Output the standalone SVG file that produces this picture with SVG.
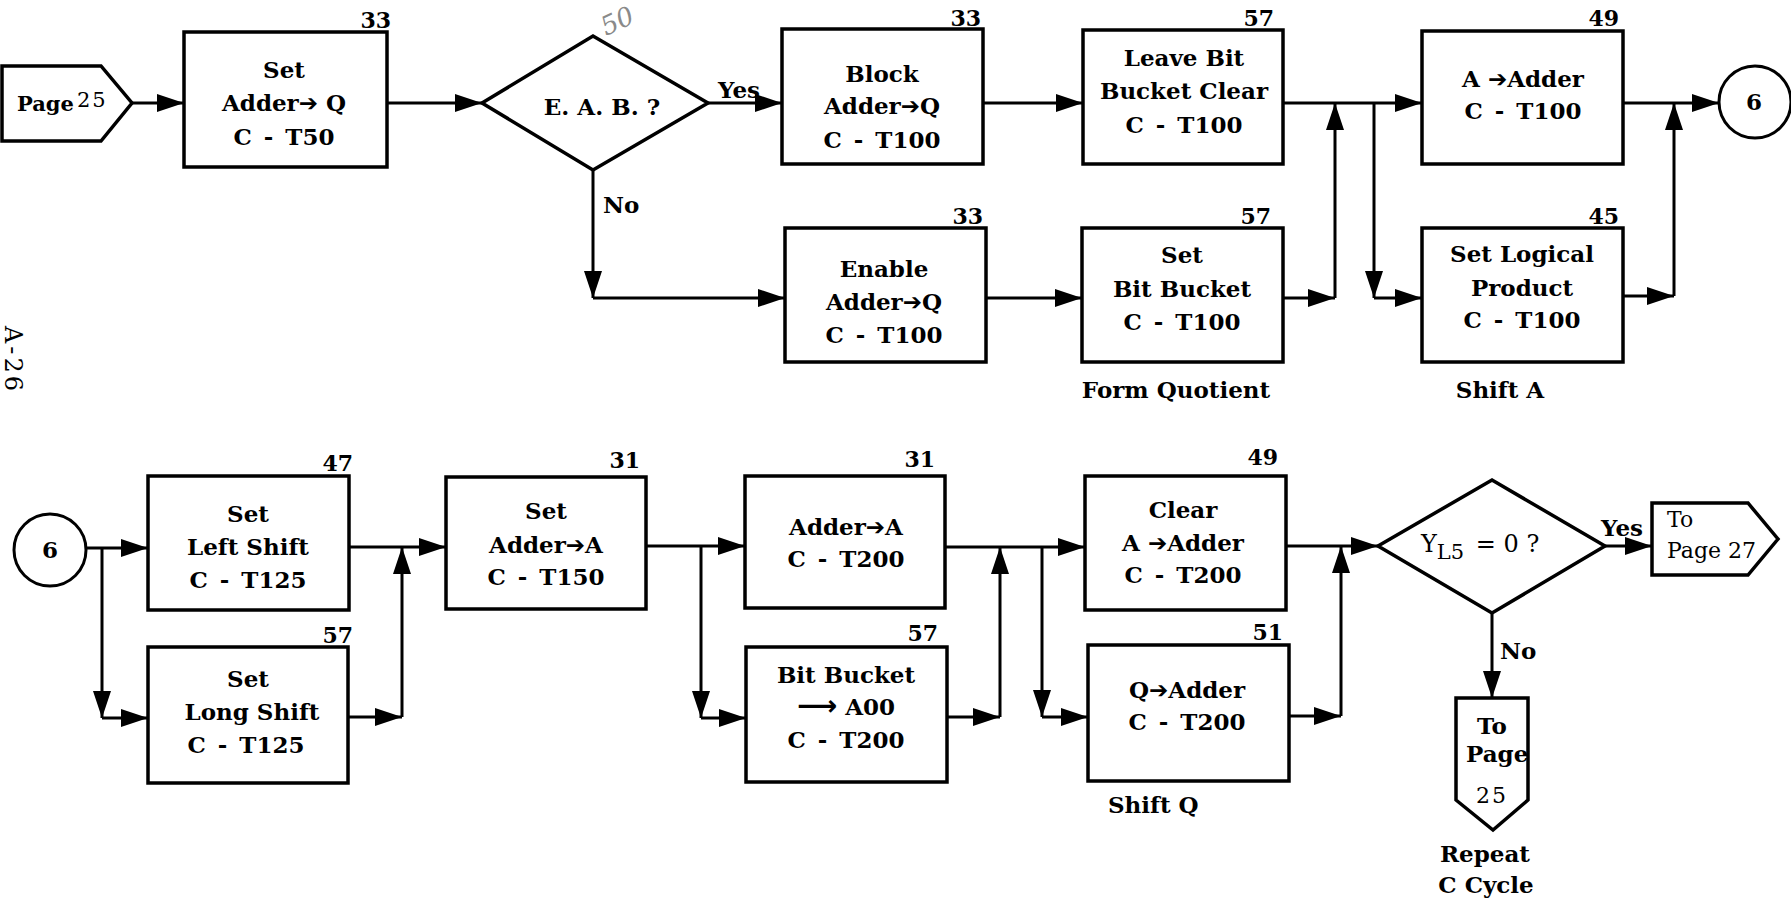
<svg xmlns="http://www.w3.org/2000/svg" width="1791" height="903" viewBox="0 0 1791 903">
<style>
.box{fill:#fff;stroke:#000;stroke-width:3.5}
.ln{fill:none;stroke:#000;stroke-width:3}
.arr{marker-end:url(#ah)}
.t{font-family:"DejaVu Serif","Liberation Serif",serif;font-weight:bold;font-size:23px;text-anchor:middle;fill:#000}
.r{font-family:"DejaVu Serif","Liberation Serif",serif;font-weight:normal;font-size:22px;fill:#000}
.n{font-family:"DejaVu Serif","Liberation Serif",serif;font-weight:bold;font-size:22px;text-anchor:end;fill:#000}
.s{font-family:"DejaVu Sans",sans-serif;font-weight:bold}
.lab{font-family:"DejaVu Serif","Liberation Serif",serif;font-weight:bold;font-size:23px;fill:#000}
</style>
<defs>
<marker id="ah" markerUnits="userSpaceOnUse" markerWidth="28" markerHeight="18" refX="27" refY="9" orient="auto" overflow="visible">
<path d="M0,0 L27,9 L0,18 Z" fill="#000"/>
</marker>
</defs>
<rect x="0" y="0" width="1791" height="903" fill="#fff"/>

<!-- page annotation -->
<text class="r" transform="translate(5,326) rotate(90)" style="font-size:24px;letter-spacing:3px">A-26</text>
<text class="r" transform="translate(606,36) rotate(-25)" style="font-size:26px;font-style:italic;fill:#8a8a8a">50</text>

<g id="connectors">
<path class="ln arr" d="M132,103 H184"/>
<path class="ln arr" d="M387,103 H482"/>
<path class="ln arr" d="M708,103 H782"/>
<path class="ln arr" d="M593,170 V298"/>
<path class="ln arr" d="M593,298 H785"/>
<path class="ln arr" d="M983,103 H1083"/>
<path class="ln arr" d="M986,298 H1082"/>
<path class="ln arr" d="M1283,103 H1422"/>
<path class="ln arr" d="M1283,298 H1335"/>
<path class="ln arr" d="M1335,298 V103"/>
<path class="ln arr" d="M1374,103 V298"/>
<path class="ln arr" d="M1374,298 H1422"/>
<path class="ln arr" d="M1623,103 H1719"/>
<path class="ln arr" d="M1623,296 H1674"/>
<path class="ln arr" d="M1674,296 V103"/>

<path class="ln arr" d="M86,548 H148"/>
<path class="ln arr" d="M102,548 V718"/>
<path class="ln arr" d="M102,718 H148"/>
<path class="ln arr" d="M349,547 H446"/>
<path class="ln arr" d="M348,717 H402"/>
<path class="ln arr" d="M402,717 V547"/>
<path class="ln arr" d="M646,546 H745"/>
<path class="ln arr" d="M701,546 V718"/>
<path class="ln arr" d="M701,718 H746"/>
<path class="ln arr" d="M945,547 H1085"/>
<path class="ln arr" d="M947,717 H1000"/>
<path class="ln arr" d="M1000,717 V547"/>
<path class="ln arr" d="M1042,547 V717"/>
<path class="ln arr" d="M1042,717 H1088"/>
<path class="ln arr" d="M1286,546 H1378"/>
<path class="ln arr" d="M1289,716 H1341"/>
<path class="ln arr" d="M1341,716 V546"/>
<path class="ln arr" d="M1605,546 H1652"/>
<path class="ln arr" d="M1492,613 V698"/>
</g>

<g id="labels">
<text class="lab" x="718" y="98">Yes</text>
<text class="lab" x="603" y="213">No</text>
<text class="t" x="1176" y="398">Form Quotient</text>
<text class="t" x="1500" y="398">Shift A</text>
<text class="lab" x="1108" y="813">Shift Q</text>
<text class="lab" x="1601" y="536">Yes</text>
<text class="lab" x="1500" y="659">No</text>
<text class="t" x="1485" y="862">Repeat</text>
<text class="t" x="1486" y="893">C Cycle</text>
</g>

<g id="page25-in">
<polygon class="box" points="2,66 101,66 132,103 101,141 2,141"/>
<text class="lab" x="17" y="111" style="font-size:21px">Page</text>
<text class="r" x="77" y="107" style="font-size:21px;letter-spacing:2px">25</text>
</g>

<g id="set-adder-q">
<rect class="box" x="184" y="32" width="203" height="135"/>
<text class="n" x="391" y="28">33</text>
<text class="t" x="284" y="78">Set</text>
<text class="t" x="284" y="111">Adder<tspan class="s">➔</tspan> Q</text>
<text class="t" x="284" y="145" word-spacing="4">C - T50</text>
</g>

<g id="eab">
<polygon class="box" points="482,103 593,36 708,103 593,170"/>
<text class="t" x="602" y="115">E. A. B. ?</text>
</g>

<g id="block-adder-q">
<rect class="box" x="782" y="29" width="201" height="135"/>
<text class="n" x="981" y="26">33</text>
<text class="t" x="882" y="82">Block</text>
<text class="t" x="882" y="114">Adder<tspan class="s">➔</tspan>Q</text>
<text class="t" x="882" y="148" word-spacing="4">C - T100</text>
</g>

<g id="enable-adder-q">
<rect class="box" x="785" y="228" width="201" height="134"/>
<text class="n" x="983" y="224">33</text>
<text class="t" x="884" y="277">Enable</text>
<text class="t" x="884" y="310">Adder<tspan class="s">➔</tspan>Q</text>
<text class="t" x="884" y="343" word-spacing="4">C - T100</text>
</g>

<g id="leave-bit-bucket">
<rect class="box" x="1083" y="30" width="200" height="134"/>
<text class="n" x="1274" y="26">57</text>
<text class="t" x="1184" y="66">Leave Bit</text>
<text class="t" x="1184" y="99">Bucket Clear</text>
<text class="t" x="1184" y="133" word-spacing="4">C - T100</text>
</g>

<g id="set-bit-bucket">
<rect class="box" x="1082" y="228" width="201" height="134"/>
<text class="n" x="1271" y="224">57</text>
<text class="t" x="1182" y="263">Set</text>
<text class="t" x="1182" y="297">Bit Bucket</text>
<text class="t" x="1182" y="330" word-spacing="4">C - T100</text>
</g>

<g id="a-adder">
<rect class="box" x="1422" y="31" width="201" height="133"/>
<text class="n" x="1619" y="26">49</text>
<text class="t" x="1523" y="87">A <tspan class="s">➔</tspan>Adder</text>
<text class="t" x="1523" y="119" word-spacing="4">C - T100</text>
</g>

<g id="set-logical-product">
<rect class="box" x="1422" y="228" width="201" height="134"/>
<text class="n" x="1619" y="224">45</text>
<text class="t" x="1522" y="262">Set Logical</text>
<text class="t" x="1522" y="296">Product</text>
<text class="t" x="1522" y="328" word-spacing="4">C - T100</text>
</g>

<g id="conn6-out">
<circle cx="1755" cy="102" r="36" fill="#fff" stroke="#000" stroke-width="3"/>
<text class="t" x="1754" y="110">6</text>
</g>

<g id="conn6-in">
<circle cx="50" cy="550" r="36" fill="#fff" stroke="#000" stroke-width="3"/>
<text class="t" x="50" y="558">6</text>
</g>

<g id="set-left-shift">
<rect class="box" x="148" y="476" width="201" height="134"/>
<text class="n" x="353" y="471">47</text>
<text class="t" x="248" y="522">Set</text>
<text class="t" x="248" y="555">Left Shift</text>
<text class="t" x="248" y="588" word-spacing="4">C - T125</text>
</g>

<g id="set-long-shift">
<rect class="box" x="148" y="647" width="200" height="136"/>
<text class="n" x="353" y="643">57</text>
<text class="t" x="248" y="687">Set</text>
<text class="t" x="252" y="720">Long Shift</text>
<text class="t" x="246" y="753" word-spacing="4">C - T125</text>
</g>

<g id="set-adder-a">
<rect class="box" x="446" y="477" width="200" height="132"/>
<text class="n" x="640" y="468">31</text>
<text class="t" x="546" y="519">Set</text>
<text class="t" x="546" y="553">Adder<tspan class="s">➔</tspan>A</text>
<text class="t" x="546" y="585" word-spacing="4">C - T150</text>
</g>

<g id="adder-a">
<rect class="box" x="745" y="476" width="200" height="132"/>
<text class="n" x="935" y="467">31</text>
<text class="t" x="846" y="535">Adder<tspan class="s">➔</tspan>A</text>
<text class="t" x="846" y="567" word-spacing="4">C - T200</text>
</g>

<g id="bit-bucket-a00">
<rect class="box" x="746" y="647" width="201" height="135"/>
<text class="n" x="938" y="641">57</text>
<text class="t" x="846" y="683">Bit Bucket</text>
<text class="t" x="846" y="715"><tspan class="s" style="font-size:28px">⟶</tspan> A00</text>
<text class="t" x="846" y="748" word-spacing="4">C - T200</text>
</g>

<g id="clear-a-adder">
<rect class="box" x="1085" y="476" width="201" height="134"/>
<text class="n" x="1278" y="465">49</text>
<text class="t" x="1183" y="518">Clear</text>
<text class="t" x="1183" y="551">A <tspan class="s">➔</tspan>Adder</text>
<text class="t" x="1183" y="583" word-spacing="4">C - T200</text>
</g>

<g id="q-adder">
<rect class="box" x="1088" y="645" width="201" height="136"/>
<text class="n" x="1283" y="640">51</text>
<text class="t" x="1187" y="698">Q<tspan class="s">➔</tspan>Adder</text>
<text class="t" x="1187" y="730" word-spacing="4">C - T200</text>
</g>

<g id="yl5">
<polygon class="box" points="1378,546 1492,480 1605,546 1492,613"/>
<text class="r" x="1421" y="552" style="font-size:24px">Y<tspan dy="7" style="font-size:21px">L5</tspan><tspan dy="-7" dx="4"> = 0 ?</tspan></text>
</g>

<g id="to-page-27">
<polygon class="box" points="1652,503 1748,503 1778,539 1748,575 1652,575"/>
<text class="r" x="1667" y="527">To</text>
<text class="r" x="1667" y="558">Page 27</text>
</g>

<g id="to-page-25">
<polygon class="box" points="1456,698 1528,698 1528,800 1493,830 1456,800"/>
<text class="t" x="1492" y="734">To</text>
<text class="lab" x="1466" y="762">Page</text>
<text class="r" x="1492" y="803" style="text-anchor:middle;letter-spacing:2px">25</text>
</g>
</svg>
